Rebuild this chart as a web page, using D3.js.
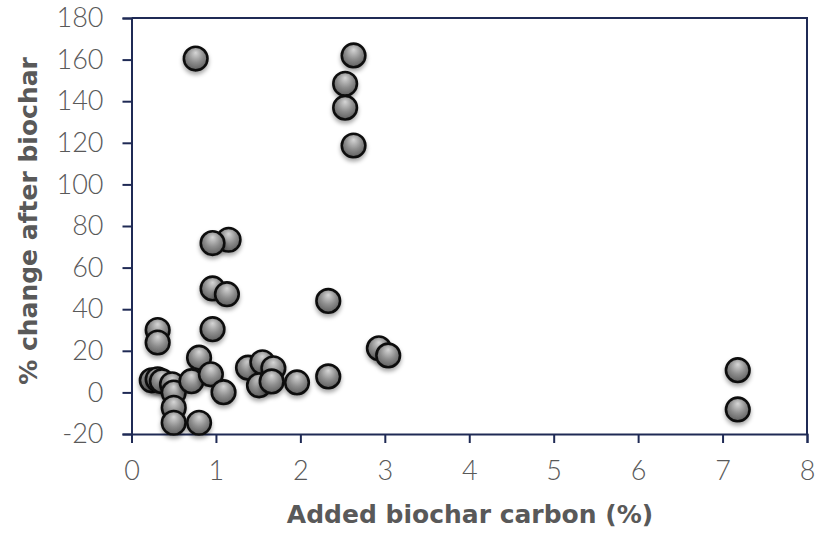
<!DOCTYPE html>
<html>
<head>
<meta charset="utf-8">
<script src="https://cdn.jsdelivr.net/npm/d3@7"></script>
<style>
  body { margin: 0; background: #fff; }
  text { font-family: Lato, "Open Sans", sans-serif; }
</style>
</head>
<body>
<svg id="chart" width="816" height="535"></svg>
<script>
// added biochar carbon (%) and % change after biochar
const carbon = [0.76, 2.63, 2.53, 2.53, 2.63, 1.15, 0.96, 0.96, 1.13, 2.33,
  0.96, 0.31, 0.31, 2.93, 3.04, 0.80, 1.38, 1.55, 1.68, 1.51,
  1.66, 1.96, 2.33, 0.24, 0.31, 0.36, 0.48, 0.50, 0.50, 0.50,
  0.71, 0.94, 1.09, 0.80, 7.18, 7.18];
const change = [160.5, 162, 148.4, 136.9, 118.7, 73.4, 71.8, 50, 47.2, 44,
  30.4, 30, 24, 21.2, 17.8, 16.7, 11.9, 14.5, 11.6, 3.4,
  5.3, 4.8, 7.7, 5.8, 6.3, 5.4, 3.9, -0.1, -7.4, -14.6,
  5.4, 8.7, 0.1, -14.6, 10.7, -8.2];
const xTicks = [0, 1, 2, 3, 4, 5, 6, 7, 8];
const yTicks = [-20, 0, 20, 40, 60, 80, 100, 120, 140, 160, 180];

const points = carbon.map((c, i) => ({ x: c, y: change[i] }));

const svg = d3.select('#chart');
const mLeft = 131.5, mRight = 807, mTop = 18, mBottom = 434;
const axisColor = '#1f2a55';
const textColor = '#595959';

const x = d3.scaleLinear().domain([0, 8]).range([mLeft, mRight]);
const y = d3.scaleLinear().domain([-20, 180]).range([mBottom, mTop]);

const defs = svg.append('defs');
const grad = defs.append('radialGradient')
  .attr('id', 'ball')
  .attr('cx', '50%').attr('cy', '40%').attr('r', '60%')
  .attr('fx', '50%').attr('fy', '25%');
grad.append('stop').attr('offset', '0%').attr('stop-color', '#d6d6d6');
grad.append('stop').attr('offset', '55%').attr('stop-color', '#8e8e8e');
grad.append('stop').attr('offset', '100%').attr('stop-color', '#5e5e5e');

const shadow = defs.append('filter').attr('id', 'shadow')
  .attr('x', '-50%').attr('y', '-50%').attr('width', '200%').attr('height', '200%');
shadow.append('feDropShadow')
  .attr('dx', 0).attr('dy', 3).attr('stdDeviation', 2)
  .attr('flood-color', '#000').attr('flood-opacity', 0.35);

// frame top/right
svg.append('path')
  .attr('d', `M${mLeft},${mTop}H${mRight}V${mBottom}`)
  .attr('fill', 'none')
  .attr('stroke', axisColor)
  .attr('stroke-width', 2);

const fmt = d => String(d);

const xAxis = svg.append('g')
  .attr('transform', `translate(0,${mBottom})`)
  .call(d3.axisBottom(x).tickValues(xTicks).tickSize(9).tickPadding(18).tickFormat(fmt));

const yAxis = svg.append('g')
  .attr('transform', `translate(${mLeft},0)`)
  .call(d3.axisLeft(y).tickValues(yTicks).tickSize(9).tickPadding(19).tickFormat(fmt));

[xAxis, yAxis].forEach(g => {
  g.select('.domain').attr('stroke', axisColor).attr('stroke-width', 2);
  g.selectAll('.tick line').attr('stroke', axisColor).attr('stroke-width', 2);
  g.selectAll('.tick text')
    .attr('fill', textColor)
    .style('font-size', '27px')
    .style('font-weight', 300);
});

svg.append('g')
  .selectAll('circle')
  .data(points)
  .join('circle')
  .attr('cx', d => x(d.x))
  .attr('cy', d => y(d.y))
  .attr('r', 11.8)
  .attr('fill', 'url(#ball)')
  .attr('stroke', '#111')
  .attr('stroke-width', 2.6)
  .attr('filter', 'url(#shadow)');

svg.append('text')
  .attr('x', 470)
  .attr('y', 523)
  .attr('text-anchor', 'middle')
  .attr('fill', textColor)
  .style('font-family', '"DejaVu Sans", sans-serif')
  .style('font-size', '25px')
  .style('font-weight', 'bold')
  .text('Added biochar carbon (%)');

svg.append('text')
  .attr('transform', `translate(37,221) rotate(-90)`)
  .attr('text-anchor', 'middle')
  .attr('fill', textColor)
  .style('font-family', '"DejaVu Sans", sans-serif')
  .style('font-size', '25px')
  .style('font-weight', 'bold')
  .text('% change after biochar');
</script>
</body>
</html>
